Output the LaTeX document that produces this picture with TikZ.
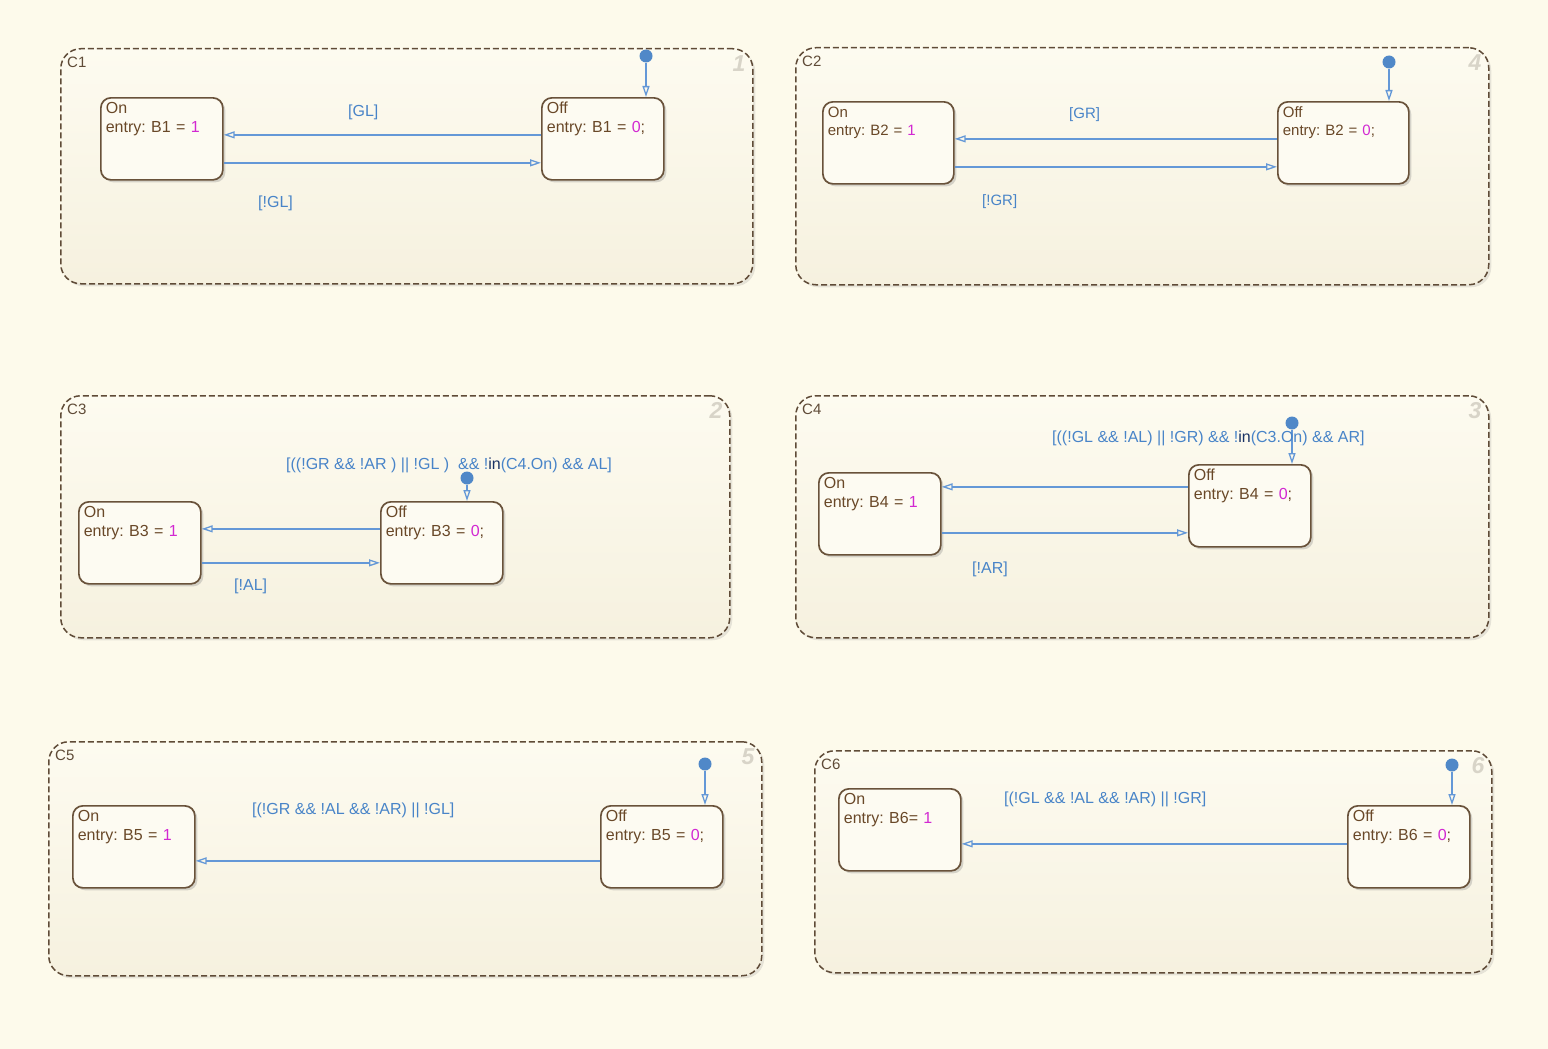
\documentclass[tikz,border=0pt]{standalone}
\usepackage{fontspec}
\setmainfont{Liberation Sans}
\usepackage{xcolor}
\usepackage{tikz}
\usetikzlibrary{arrows.meta,shadows}
\frenchspacing

\definecolor{bgcream}{RGB}{253,250,235}
\definecolor{charttop}{RGB}{253,251,240}
\definecolor{chartbot}{RGB}{246,241,223}
\definecolor{chartline}{RGB}{95,75,55}
\definecolor{statefill}{RGB}{253,251,242}
\definecolor{stateline}{RGB}{105,82,58}
\definecolor{statetext}{RGB}{105,72,40}
\definecolor{numpink}{RGB}{210,40,210}
\definecolor{transblue}{RGB}{100,152,215}
\definecolor{labelblue}{RGB}{72,132,200}
\definecolor{dotblue}{RGB}{80,136,200}
\definecolor{innavy}{RGB}{25,50,100}
\definecolor{tagrey}{RGB}{216,212,200}

\begin{document}
\begin{tikzpicture}[x=1pt,y=-1pt,
        chart/.style={draw=chartline,line width=1.5pt,dash pattern=on 6pt off 3pt,
          rounded corners=20pt,top color=charttop,bottom color=chartbot,
          anchor=north west,inner sep=0pt,
          drop shadow={shadow xshift=2.5pt,shadow yshift=-2.5pt,opacity=0.18}},
        chart title/.style={anchor=north west,inner sep=0pt,text=chartline,
          font=\fontsize{15}{18}\selectfont},
        chart tag/.style={anchor=north east,inner sep=0pt,text=tagrey,
          font=\fontsize{23}{26}\selectfont\itshape\bfseries},
        state/.style={draw=stateline,line width=1.7pt,rounded corners=10pt,
          fill=statefill,anchor=north west,text=statetext,align=left,
          text width=112pt,inner xsep=5pt,inner ysep=3pt,
          text height=13pt,text depth=63pt,minimum width=122pt,minimum height=82pt,
          font=\fontsize{16}{19}\selectfont,
          drop shadow={shadow xshift=2.5pt,shadow yshift=-2.5pt,opacity=0.3}},
        guard/.style={anchor=west,inner sep=0pt,text=labelblue,
          font=\fontsize{16}{19}\selectfont},
        dot/.style={circle,fill=dotblue,inner sep=0pt,minimum size=13pt},
        trans/.style={draw=transblue,line width=1.3pt,
          -{Triangle[open,length=11pt,width=7pt]}}
      ]
      \fill[bgcream] (0,0) rectangle (1548,1049);
      \useasboundingbox (0,0) rectangle (1548,1049);

      % chart containers
      \node[chart,minimum width=692pt,minimum height=235pt] (c1) at (60,48) {};
      \node[chart,minimum width=693pt,minimum height=237pt] (c2) at (795,47) {};
      \node[chart,minimum width=669pt,minimum height=242pt] (c3) at (60,395) {};
      \node[chart,minimum width=693pt,minimum height=242pt] (c4) at (795,395) {};
      \node[chart,minimum width=713pt,minimum height=234pt] (c5) at (48,741) {};
      \node[chart,minimum width=677pt,minimum height=222pt] (c6) at (814,750) {};

      \node[chart title] (t1) at ([xshift=7pt,yshift=-9pt]c1.north west) {C1};
      \node[chart title] (t2) at ([xshift=7pt,yshift=-9pt]c2.north west) {C2};
      \node[chart title] (t3) at ([xshift=7pt,yshift=-9pt]c3.north west) {C3};
      \node[chart title] (t4) at ([xshift=7pt,yshift=-9pt]c4.north west) {C4};
      \node[chart title] (t5) at ([xshift=7pt,yshift=-9pt]c5.north west) {C5};
      \node[chart title] (t6) at ([xshift=7pt,yshift=-9pt]c6.north west) {C6};

      \node[chart tag] (n1) at ([xshift=-8pt,yshift=-7pt]c1.north east) {1};
      \node[chart tag] (n2) at ([xshift=-8pt,yshift=-7pt]c2.north east) {4};
      \node[chart tag] (n3) at ([xshift=-8pt,yshift=-7pt]c3.north east) {2};
      \node[chart tag] (n4) at ([xshift=-8pt,yshift=-7pt]c4.north east) {3};
      \node[chart tag] (n5) at ([xshift=-8pt,yshift=-7pt]c5.north east) {5};
      \node[chart tag] (n6) at ([xshift=-8pt,yshift=-7pt]c6.north east) {6};

      % states
      \node[state] (on1)  at (100,97)  {On\\entry: B1 = \textcolor{numpink}{1}};
      \node[state] (off1) at (541,97)  {Off\\entry: B1 = \textcolor{numpink}{0};};
      \node[state,text width=121pt,minimum width=131pt,font=\fontsize{15}{18}\selectfont]
        (on2)  at (822,101) {On\\entry: B2 = \textcolor{numpink}{1}};
      \node[state,text width=121pt,minimum width=131pt,font=\fontsize{15}{18}\selectfont]
        (off2) at (1277,101) {Off\\entry: B2 = \textcolor{numpink}{0};};
      \node[state] (on3)  at (78,501)  {On\\entry: B3 = \textcolor{numpink}{1}};
      \node[state] (off3) at (380,501) {Off\\entry: B3 = \textcolor{numpink}{0};};
      \node[state] (on4)  at (818,472) {On\\entry: B4 = \textcolor{numpink}{1}};
      \node[state] (off4) at (1188,464) {Off\\entry: B4 = \textcolor{numpink}{0};};
      \node[state] (on5)  at (72,805)  {On\\entry: B5 = \textcolor{numpink}{1}};
      \node[state] (off5) at (600,805) {Off\\entry: B5 = \textcolor{numpink}{0};};
      \node[state] (on6)  at (838,788) {On\\entry: B6= \textcolor{numpink}{1}};
      \node[state] (off6) at (1347,805) {Off\\entry: B6 = \textcolor{numpink}{0};};

      % default transitions
      \node[dot] (d1) at (646,56) {};
      \node[dot] (d2) at (1389,62) {};
      \node[dot] (d3) at (467,478) {};
      \node[dot] (d4) at (1292,423) {};
      \node[dot] (d5) at (705,764) {};
      \node[dot] (d6) at (1452,765) {};
      \draw[trans] (d1) -- (d1 |- off1.north);
      \draw[trans] (d2) -- (d2 |- off2.north);
      \draw[trans] (d3) -- (d3 |- off3.north);
      \draw[trans] (d4) -- (d4 |- off4.north);
      \draw[trans] (d5) -- (d5 |- off5.north);
      \draw[trans] (d6) -- (d6 |- off6.north);

      % transitions
      \draw[trans] ([yshift=4pt]off1.west) -- ([yshift=4pt]off1.west -| on1.east);
      \draw[trans] ([yshift=-24pt]on1.east) -- ([yshift=-24pt]on1.east -| off1.west);
      \draw[trans] ([yshift=4pt]off2.west) -- ([yshift=4pt]off2.west -| on2.east);
      \draw[trans] ([yshift=-24pt]on2.east) -- ([yshift=-24pt]on2.east -| off2.west);
      \draw[trans] ([yshift=14pt]off3.west) -- ([yshift=14pt]off3.west -| on3.east);
      \draw[trans] ([yshift=-20pt]on3.east) -- ([yshift=-20pt]on3.east -| off3.west);
      \draw[trans] ([yshift=19pt]off4.west) -- ([yshift=19pt]off4.west -| on4.east);
      \draw[trans] ([yshift=-19pt]on4.east) -- ([yshift=-19pt]on4.east -| off4.west);
      \draw[trans] ([yshift=-14pt]off5.west) -- ([yshift=-14pt]off5.west -| on5.east);
      \draw[trans] ([yshift=3pt]off6.west) -- ([yshift=3pt]off6.west -| on6.east);

      % guards
      \node[guard] (g1a) at (348,112) {[GL]};
      \node[guard] (g1b) at (258,203) {[!GL]};
      \node[guard,font=\fontsize{15}{18}\selectfont] (g2a) at (1069,115) {[GR]};
      \node[guard,font=\fontsize{15}{18}\selectfont] (g2b) at (982,202) {[!GR]};
      \node[guard] (g3a) at (286,465)
        {[((!GR \&\& !AR ) || !GL )\ \ \&\& !\textcolor{innavy}{in}(C4.On) \&\& AL]};
      \node[guard] (g3b) at (234,586) {[!AL]};
      \node[guard] (g4a) at (1052,438)
        {[((!GL \&\& !AL) || !GR) \&\& !\textcolor{innavy}{in}(C3.On) \&\& AR]};
      \node[guard] (g4b) at (972,569) {[!AR]};
      \node[guard] (g5a) at (252,810) {[(!GR \&\& !AL \&\& !AR) || !GL]};
      \node[guard] (g6a) at (1004,799) {[(!GL \&\& !AL \&\& !AR) || !GR]};
    \end{tikzpicture}
\end{document}
